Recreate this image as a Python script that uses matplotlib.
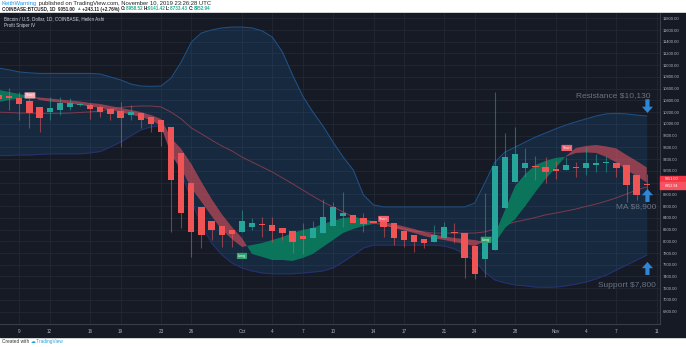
import matplotlib
matplotlib.use("Agg")
import matplotlib.pyplot as plt
import numpy as np
from matplotlib.patches import Rectangle
from matplotlib.transforms import blended_transform_factory, Bbox, TransformedBbox

plt.rcParams["font.family"] = ["Liberation Sans", "DejaVu Sans"]

# Heikin Ashi candles, COINBASE:BTCUSD 1D, Sep 7 .. Nov 10 2019
ha_open = [10490, 10470, 10447, 10391, 10294, 10198, 10237, 10294, 10318, 10323,
           10289, 10255, 10221, 10152, 10181, 10118, 10062, 9953, 9500, 8988,
           8579, 8346, 8266, 8193, 8153, 8239, 8295, 8283, 8221, 8176,
           8096, 8061, 8136, 8266, 8431, 8448, 8392, 8341, 8363, 8306,
           8181, 8107, 8039, 7983, 8051, 8164, 8147, 7920, 7693, 7852,
           8573, 9016, 9244, 9290, 9261, 9233, 9215, 9261, 9255, 9295,
           9329, 9329, 9300, 9130, 8958.52]
ha_high = [10520, 10607, 10550, 10437, 10294, 10464, 10464, 10447, 10357, 10362,
           10323, 10255, 10379, 10323, 10181, 10118, 10062, 9953, 9500, 8988,
           8579, 8346, 8266, 8193, 8533, 8392, 8420, 8420, 8221, 8176,
           8306, 8351, 8716, 8675, 8845, 8448, 8477, 8341, 8363, 8306,
           8181, 8107, 8039, 8278, 8335, 8317, 8147, 7920, 8818, 10550,
           9840, 9953, 9585, 9454, 9431, 9374, 9443, 9358, 9612, 9488,
           9454, 9329, 9300, 9130, 9141.42]
ha_low = [10390, 10237, 10067, 9936, 9868, 10067, 10152, 10237, 10300, 10084,
          10124, 10067, 9612, 10067, 9936, 9857, 9629, 8164, 8232, 7738,
          7880, 8022, 7908, 7908, 8153, 8193, 8079, 7994, 8022, 7795,
          7784, 8061, 8136, 8266, 8249, 8306, 8164, 8306, 8079, 7937,
          7908, 7823, 7886, 7983, 8051, 7966, 7370, 7352, 7397, 7852,
          8573, 9016, 9101, 9045, 8988, 9057, 9215, 9101, 9130, 9187,
          9187, 9101, 8675, 8704, 8733.43]
ha_close = [10425, 10437, 10335, 10180, 10106, 10277, 10352, 10352, 10340, 10255,
            10209, 10164, 10096, 10209, 10067, 9994, 9857, 9045, 8487, 8164,
            8107, 8193, 8107, 8119, 8346, 8317, 8272, 8170, 8136, 7983,
            8039, 8221, 8414, 8579, 8488, 8306, 8295, 8306, 8249, 8051,
            8022, 7983, 7977, 8107, 8249, 8136, 7710, 7438, 8011, 9283,
            9431, 9488, 9341, 9261, 9176, 9198, 9295, 9244, 9341, 9341,
            9358, 9244, 8960, 8789, 8952.94]

# bands around the 20-day average
bb_upper = [10950, 10920, 10885, 10870, 10860, 10860, 10860, 10860, 10860, 10860,
            10850, 10800, 10750, 10680, 10645, 10640, 10645, 10780, 11055, 11395,
            11550, 11600, 11635, 11650, 11650, 11635, 11585, 11480, 11226, 10834,
            10475, 10205, 9965, 9690, 9435, 9215, 8790, 8620, 8585, 8585,
            8585, 8585, 8585, 8585, 8585, 8585, 8585, 8650, 8995, 9350,
            9520, 9605, 9690, 9775, 9845, 9915, 9980, 10035, 10085, 10135,
            10170, 10180, 10170, 10150, 10135]
bb_lower = [9460, 9460, 9470, 9470, 9480, 9490, 9490, 9490, 9490, 9505,
            9530, 9607, 9690, 9795, 9897, 9950, 9965, 9555, 9180, 8705,
            8280, 7970, 7770, 7630, 7545, 7495, 7460, 7445, 7445, 7445,
            7460, 7475, 7495, 7545, 7650, 7765, 7885, 7935, 7935, 7935,
            7935, 7935, 7935, 7935, 7920, 7870, 7785, 7665, 7475, 7340,
            7290, 7255, 7240, 7220, 7215, 7220, 7240, 7270, 7305, 7360,
            7425, 7510, 7595, 7680, 7765]
bb_basis = [10200, 10195, 10185, 10185, 10180, 10180, 10180, 10185, 10195, 10205,
            10220, 10255, 10280, 10297, 10305, 10305, 10290, 10200, 10085, 9930,
            9830, 9725, 9625, 9540, 9435, 9350, 9265, 9180, 9080, 8980,
            8875, 8770, 8670, 8585, 8500, 8415, 8365, 8310, 8280, 8245,
            8210, 8175, 8160, 8140, 8140, 8140, 8140, 8140, 8160, 8210,
            8280, 8330, 8365, 8405, 8450, 8480, 8515, 8550, 8595, 8635,
            8685, 8740, 8805, 8875, 8925]

# Profit Sniper ribbon: fast / slow lines
sniper_fast = [10578, 10544, 10510, 10476, 10408, 10382, 10365, 10348, 10323, 10297,
               10272, 10238, 10195, 10160, 10118, 10067, 9965, 9471, 9232, 8908,
               8670, 8431, 8193, 8039, 7903, 7937, 7971, 8022, 8073, 8142,
               8193, 8227, 8295, 8346, 8397, 8414, 8380, 8338, 8270, 8227,
               8184, 8142, 8090, 8048, 8022, 7988, 7954, 7920, 8005, 8125,
               8534, 8942, 9147, 9300, 9369, 9420, 9440, 9505, 9514, 9505,
               9437, 9343, 9215, 9113, 9002]
sniper_slow = [10374, 10408, 10434, 10459, 10450, 10434, 10416, 10400, 10382, 10357,
               10340, 10306, 10272, 10238, 10203, 10152, 10084, 9760, 9573, 9317,
               9011, 8721, 8465, 8244, 8056, 7784, 7733, 7681, 7681, 7665,
               7715, 7784, 7903, 8022, 8142, 8210, 8261, 8295, 8321, 8295,
               8253, 8210, 8159, 8116, 8082, 8056, 8039, 8022, 7988, 7971,
               8227, 8380, 8602, 8840, 9062, 9249, 9450, 9590, 9624, 9641,
               9616, 9581, 9471, 9369, 9258]

# signal flags: (bar, price, text)
signals = [(3.05, 10485, "Short"), (24.0, 7750, "Long"), (38.0, 8380, "Short"),
           (48.1, 8025, "Long"), (56.1, 9590, "Short")]

tick_days = [2, 5, 9, 12, 16, 19, 24, 27, 30, 33, 37, 40, 44, 47, 51, 55, 58, 61, 65]
tick_labels = ["9", "12", "16", "19", "23", "26", "Oct", "4", "7", "10", "14",
               "17", "21", "24", "28", "Nov", "4", "7", "11"]
price_ticks = list(range(6800, 11801, 200))

BG = "#151a25"
UP = "#26a69a"
DOWN = "#f05454"

W, H = 686, 347
fig = plt.figure(figsize=(W / 100, H / 100), dpi=100, facecolor="white")

# dark pane behind chart, price scale and time scale
fig.patches.append(Rectangle((0, 1 - 337 / H), 1, (337 - 12.7) / H,
                             transform=fig.transFigure, color=BG, zorder=-1))

ax = fig.add_axes([0, 1 - 323.5 / H, 660 / W, (323.5 - 12.7) / H])
ax.set_facecolor(BG)
ax.set_xlim(0.09, 65.31)
ax.set_ylim(6599, 11895)

days = np.arange(len(ha_open))
o = np.array(ha_open)
c = np.array(ha_close)
hi = np.array(ha_high)
lo = np.array(ha_low)

# bands
ax.fill_between(days, bb_lower, bb_upper, color="#2196f3", alpha=0.12, lw=0, zorder=1)
ax.plot(days, bb_upper, color="#1f4f82", lw=0.8, zorder=1.5)
ax.plot(days, bb_lower, color="#28306e", lw=0.8, zorder=1.5)
ax.plot(days, bb_basis, color="#7e3a4f", lw=0.7, zorder=2)

# ribbon
fast = np.array(sniper_fast)
slow = np.array(sniper_slow)
ax.fill_between(days, fast, slow, where=fast >= slow, interpolate=True,
                color="#0b7a5e", alpha=0.95, lw=0, zorder=2.5)
ax.fill_between(days, fast, slow, where=fast <= slow, interpolate=True,
                color="#e0505e", alpha=0.6, lw=0, zorder=2.5)

# candles
colors = np.where(c >= o, UP, DOWN)
ax.vlines(days, lo, hi, colors=colors, lw=0.8, alpha=0.55, zorder=3)
body_lo = np.minimum(o, c)
body_h = np.maximum(np.abs(c - o), 22)
ax.bar(days, body_h, bottom=body_lo, width=0.62, color=colors, lw=0, zorder=3.5)

for x, y, s in signals:
    fc = "#2fa36e" if s == "Long" else "#f0606c"
    if x < 5:
        fc = "#f4a9b0"
    ax.text(x, y, s, fontsize=2.6, color="white", ha="center", va="center", zorder=4,
            bbox=dict(boxstyle="round,pad=0.3,rounding_size=0.15", fc=fc, ec="none"))

# grid and scales
ax.set_xticks(tick_days)
ax.set_xticklabels(tick_labels)
ax.set_yticks(price_ticks)
ax.set_yticklabels([f"{p:.2f}" for p in price_ticks])
ax.yaxis.tick_right()
ax.grid(True, color="#232835", lw=0.6, zorder=0)
ax.set_axisbelow(True)
ax.tick_params(axis="x", length=0, pad=4.2, labelsize=3.3, labelcolor="#b2b5be")
ax.tick_params(axis="y", length=0, pad=2.0, labelsize=3.0, labelcolor="#b2b5be")
for side in ("top", "left"):
    ax.spines[side].set_visible(False)
for side in ("right", "bottom"):
    ax.spines[side].set_color("#3a3e4a")
    ax.spines[side].set_linewidth(0.8)

# the "11" label sits under the price scale
clip = TransformedBbox(Bbox([[0, 0], [660 / W, 1]]), fig.transFigure)
last = ax.get_xticklabels()[-1]
last.set_clip_on(True)
last.set_clip_box(clip)

# last price tags, stacked one above the other
blend = blended_transform_factory(ax.transAxes, ax.transData)
for centre, fc, txt in [(9056, "#f23645", "9051.00"), (8948, "#f7525f", "8952.94")]:
    ax.add_patch(Rectangle((1.0, centre - 54), 0.04, 108, transform=blend,
                           color=fc, clip_on=False, zorder=6))
    ax.text(1.007, centre, txt, transform=blend, fontsize=2.7, color="white",
            va="center", ha="left", clip_on=False, zorder=7)

# levels
note_color = "#6b7383"
ax.text(64.42, 10476, "Resistance $10,130", fontsize=6, color=note_color,
        ha="right", va="center", zorder=5)
ax.text(64.98, 8590, "MA $8,900", fontsize=6, color=note_color,
        ha="right", va="center", zorder=5)
ax.text(64.92, 7238, "Support $7,800", fontsize=6, color=note_color,
        ha="right", va="center", zorder=5)
arrow = dict(arrowstyle="simple,head_length=0.45,head_width=0.8,tail_width=0.3",
             color="#2f86d4", lw=0, mutation_scale=10, shrinkA=0, shrinkB=0)
ax.annotate("", xy=(64.07, 10187), xytext=(64.07, 10420), arrowprops=arrow, zorder=5)
ax.annotate("", xy=(64.07, 8891), xytext=(64.07, 8670), arrowprops=arrow, zorder=5)
ax.annotate("", xy=(64.07, 7648), xytext=(64.07, 7426), arrowprops=arrow, zorder=5)

# chart legend
ax.text(4 / 660, 1 - (19 - 12.7) / (323.5 - 12.7), "Bitcoin / U.S. Dollar, 1D, COINBASE, Heikin Ashi",
        transform=ax.transAxes, fontsize=3.3, color="#d1d4dc", va="center")
ax.text(4 / 660, 1 - (25.5 - 12.7) / (323.5 - 12.7), "Profit Sniper IV",
        transform=ax.transAxes, fontsize=3.3, color="#d1d4dc", va="center")


def text_run(x_px, y_px, parts, size, weight="normal"):
    renderer = fig.canvas.get_renderer()
    x = x_px / W
    for s, col in parts:
        t = fig.text(x, 1 - y_px / H, s, color=col, fontsize=size, va="center",
                     fontweight=weight)
        x += t.get_window_extent(renderer).width / fig.bbox.width


dark = "#222222"
green = "#22ab94"
text_run(2, 3.6, [("KeithWarning", "#2196f3"),
                  (" published on TradingView.com, November 10, 2019 23:26:28 UTC", dark)], 4.2)
text_run(2, 9.0, [("COINBASE:BTCUSD, 1D  9051.00 ", dark), ("\u25b2", green),
                  (" +243.11 (+2.76%) ", dark), ("O:", dark), ("8958.52 ", green),
                  ("H:", dark), ("9141.42 ", green), ("L:", dark), ("8733.43 ", green),
                  ("C:", dark), ("8952.94", green)], 3.3, weight="bold")
text_run(2, 341.8, [("Created with ", "#333333"), ("\u2601", "#2aa1d8"),
                    (" TradingView", "#2aa1d8")], 3.4)

fig.savefig("out.png", dpi=100, facecolor="white")
